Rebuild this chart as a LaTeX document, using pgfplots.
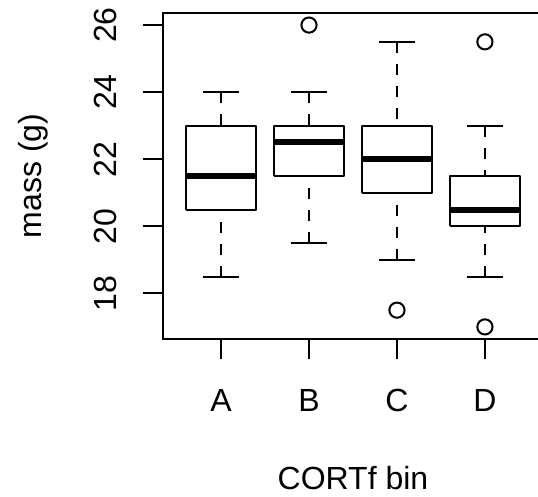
\documentclass[border=0pt]{standalone}
\usepackage{pgfplots}
\pgfplotsset{compat=1.18}
\usepackage{fontspec}
\setmainfont{Liberation Sans}
\begin{document}
\fontsize{16}{19.2}\selectfont
\begin{tikzpicture}
\begin{axis}[
  at={(81.5pt,79pt)}, anchor=south west,
  scale only axis, width=190pt, height=163pt,
  xmin=0.34, xmax=4.66, ymin=16.64, ymax=26.36,
  xtick={1,2,3,4}, xticklabels={A,B,C,D},
  ytick={18,20,22,24,26},
  tick align=outside, xtick pos=bottom, ytick pos=left,
  major tick length=10pt,
  every tick/.style={black, line width=1pt},
  axis line style={black, line width=1pt},
  /pgf/number format/assume math mode=true,
  xticklabel style={anchor=base, yshift=-26.5pt},
  yticklabel style={xshift=-13pt, rotate=90, anchor=base},
  xlabel={CORTf bin}, ylabel={mass (g)},
  every axis x label/.style={at={([yshift=-75.5pt]axis description cs:0.5,0)}, anchor=base},
  every axis y label/.style={at={([xshift=-60.7pt]axis description cs:0,0.5)}, rotate=90, anchor=base},
  unbounded coords=jump,
  clip=false,
]
% boxes (lower quartile to upper quartile)
\addplot[black, line width=1pt, line join=round] coordinates {
  (0.6,20.5) (1.4,20.5) (1.4,23) (0.6,23) (0.6,20.5) (1,nan)
  (1.6,21.5) (2.4,21.5) (2.4,23) (1.6,23) (1.6,21.5) (2,nan)
  (2.6,21) (3.4,21) (3.4,23) (2.6,23) (2.6,21) (3,nan)
  (3.6,20) (4.4,20) (4.4,21.5) (3.6,21.5) (3.6,20)
};
% medians
\addplot[black, line width=3pt] coordinates {
  (0.6,21.5) (1.4,21.5) (1,nan)
  (1.6,22.5) (2.4,22.5) (2,nan)
  (2.6,22) (3.4,22) (3,nan)
  (3.6,20.5) (4.4,20.5)
};
% whiskers (dashed, from whisker end to box)
\addplot[black, line width=1pt, dash pattern=on 5.5pt off 5.5pt] coordinates {
  (1,18.5) (1,20.5) (1,nan) (1,24) (1,23) (1,nan)
  (2,19.5) (2,21.5) (2,nan) (2,24) (2,23) (2,nan)
  (3,19) (3,21) (3,nan) (3,25.5) (3,23) (3,nan)
  (4,18.5) (4,20) (4,nan) (4,23) (4,21.5)
};
% staples
\addplot[black, line width=1pt] coordinates {
  (0.8,18.5) (1.2,18.5) (1,nan) (0.8,24) (1.2,24) (1,nan)
  (1.8,19.5) (2.2,19.5) (2,nan) (1.8,24) (2.2,24) (2,nan)
  (2.8,19) (3.2,19) (3,nan) (2.8,25.5) (3.2,25.5) (3,nan)
  (3.8,18.5) (4.2,18.5) (4,nan) (3.8,23) (4.2,23)
};
% outliers
\addplot[black, only marks, mark=o, mark size=3.8pt, mark options={line width=1pt}] coordinates {
  (2,26) (3,17.5) (4,25.5) (4,17)
};
\end{axis}
\pgfresetboundingbox
\path[use as bounding box] (0,0) rectangle (269pt,248.5pt);
\end{tikzpicture}
\end{document}
